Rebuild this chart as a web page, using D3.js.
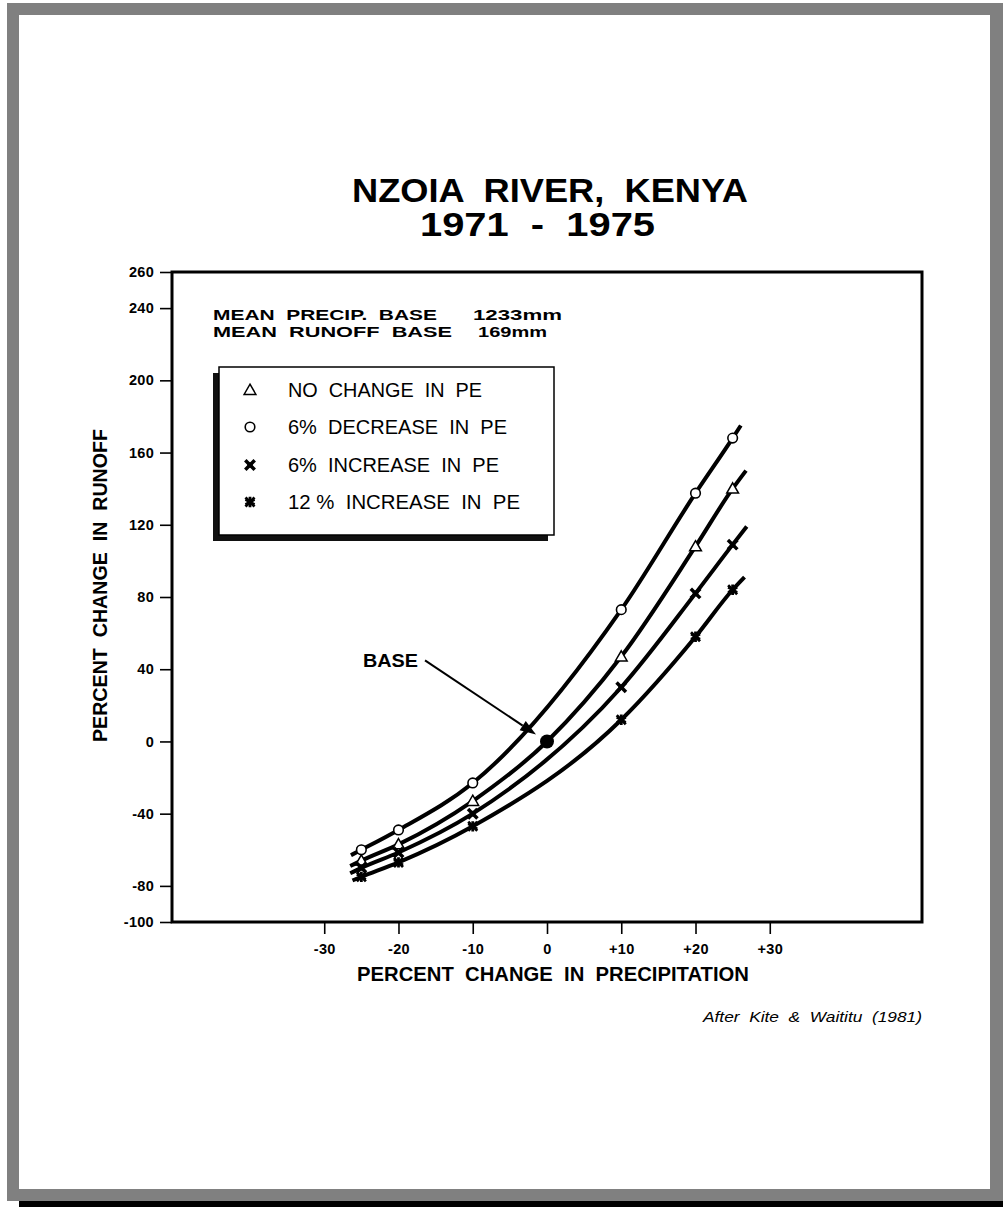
<!DOCTYPE html>
<html><head><meta charset="utf-8">
<script src="https://cdn.jsdelivr.net/npm/d3@7"></script>
<style>
body{margin:0;background:#fff}
svg{display:block}
text{font-family:"Liberation Sans",Arial,Helvetica,sans-serif;fill:#000;white-space:pre}
</style>
</head><body>
<svg id="c" width="1003" height="1207"></svg>
<script>
// ---- data ----
const markerX = [-25, -20, -10, 10, 20, 25];
const decrease6PE = [-60, -49, -23, 73, 137.5, 168];   // circles
const noChangePE = [-66, -57, -33, 47, 108, 140];     // triangles
const increase6PE = [-70, -61.5, -40, 30, 82, 109];   // x marks
const increase12PE = [-75, -67, -47, 12, 58, 84];     // asterisks
const curveStartX = [-26.4, -26.5, -26.5, -26.2];
const curveStartY = [-63, -69, -73, -77];
const curveEndX = [26.1, 26.8, 26.9, 26.6];
const curveEndY = [175, 150, 119, 91];
const basePoint = [0, 0];
const yTickValues = [260, 240, 200, 160, 120, 80, 40, 0, -40, -80, -100];
const xTickValues = [-30, -20, -10, 0, 10, 20, 30];
const xTickLabels = ["-30", "-20", "-10", "0", "+10", "+20", "+30"];
const legendLabels = ["NO  CHANGE  IN  PE", "6%  DECREASE  IN  PE", "6%  INCREASE  IN  PE", "12 %  INCREASE  IN  PE"];
const titleLines = ["NZOIA  RIVER,  KENYA", "1971  -  1975"];
const noteLines = [["MEAN  PRECIP.  BASE", "1233mm"], ["MEAN  RUNOFF  BASE", "169mm"]];

const svg = d3.select("#c");
const SG = "spacingAndGlyphs";

// page frame
svg.append("rect").attr("x", 7).attr("y", 3).attr("width", 996).attr("height", 1198).attr("fill", "#808080");
svg.append("rect").attr("x", 19).attr("y", 1201).attr("width", 984).attr("height", 6).attr("fill", "#000");
svg.append("rect").attr("x", 19).attr("y", 15).attr("width", 971).attr("height", 1174).attr("fill", "#fff");

// scales
const x = d3.scaleLinear().domain([-50.5, 50.5]).range([172, 922]);
const y = d3.scaleLinear().domain([-100, 260]).range([922, 272]);

// title
svg.append("text").attr("x", 352).attr("y", 202).attr("font-size", 33).attr("font-weight", "bold")
  .attr("textLength", 396).attr("lengthAdjust", SG).text(titleLines[0]);
svg.append("text").attr("x", 420).attr("y", 236).attr("font-size", 33).attr("font-weight", "bold")
  .attr("textLength", 235).attr("lengthAdjust", SG).text(titleLines[1]);

// axes
const yAxis = d3.axisLeft(y).tickValues(yTickValues).tickSize(12).tickPadding(6).tickFormat(d => String(d));
const gy = svg.append("g").attr("transform", `translate(${x.range()[0]},0)`).call(yAxis);
gy.select(".domain").remove();
gy.selectAll(".tick line").attr("stroke", "#000").attr("stroke-width", 1.6);
gy.selectAll(".tick text").attr("font-size", 14.5).attr("font-weight", "bold")
  .attr("letter-spacing", 0.3).attr("font-family", '"Liberation Sans",Arial,sans-serif');

const xAxis = d3.axisBottom(x).tickValues(xTickValues).tickSize(12).tickPadding(10)
  .tickFormat((d, i) => xTickLabels[i]);
const gx = svg.append("g").attr("transform", `translate(0,${y.range()[0]})`).call(xAxis);
gx.select(".domain").remove();
gx.selectAll(".tick line").attr("stroke", "#000").attr("stroke-width", 1.6);
gx.selectAll(".tick text").attr("font-size", 14.5).attr("font-weight", "bold")
  .attr("letter-spacing", 0.3).attr("font-family", '"Liberation Sans",Arial,sans-serif');

// plot frame
svg.append("rect").attr("x", x.range()[0]).attr("y", y.range()[1])
  .attr("width", x.range()[1] - x.range()[0]).attr("height", y.range()[0] - y.range()[1])
  .attr("fill", "none").attr("stroke", "#000").attr("stroke-width", 3);

// axis titles
svg.append("text").attr("x", 357).attr("y", 981).attr("font-size", 20).attr("font-weight", "bold")
  .attr("textLength", 392).attr("lengthAdjust", SG).text("PERCENT  CHANGE  IN  PRECIPITATION");
svg.append("text").attr("transform", "translate(107,742) rotate(-90)").attr("font-size", 20).attr("font-weight", "bold")
  .attr("textLength", 313).attr("lengthAdjust", SG).text("PERCENT  CHANGE  IN  RUNOFF");

// base info text
const noteBaselines = [319.5, 337];
const noteValX = [473, 478];
const noteLabelW = [224, 239];
const noteValW = [89, 69];
noteLines.forEach((l, i) => {
  svg.append("text").attr("x", 213).attr("y", noteBaselines[i]).attr("font-size", 15.5).attr("font-weight", "bold")
    .attr("textLength", noteLabelW[i]).attr("lengthAdjust", SG).text(l[0]);
  svg.append("text").attr("x", noteValX[i]).attr("y", noteBaselines[i]).attr("font-size", 15.5).attr("font-weight", "bold")
    .attr("textLength", noteValW[i]).attr("lengthAdjust", SG).text(l[1]);
});

// series
const series = [
  {vals: noChangePE, shape: "tri", idx: 1, withBase: true},
  {vals: decrease6PE, shape: "circle", idx: 0},
  {vals: increase6PE, shape: "times", idx: 2},
  {vals: increase12PE, shape: "star", idx: 3}
];

const line = d3.line().x(d => x(d[0])).y(d => y(d[1])).curve(d3.curveMonotoneX);
const gLines = svg.append("g");
series.forEach(s => {
  let pts = markerX.map((xx, i) => [xx, s.vals[i]]);
  if (s.withBase) { pts.push(basePoint); pts.sort((a, b) => a[0] - b[0]); }
  pts = [[curveStartX[s.idx], curveStartY[s.idx]], ...pts, [curveEndX[s.idx], curveEndY[s.idx]]];
  gLines.append("path").attr("d", line(pts)).attr("fill", "none").attr("stroke", "#000")
    .attr("stroke-width", 4).attr("stroke-linecap", "butt");
});

function drawMarker(g, shape, cx, cy) {
  if (shape === "tri") {
    g.append("path").attr("d", d3.symbol(d3.symbolTriangle, 60)()).attr("transform", `translate(${cx},${cy + 1})`)
      .attr("fill", "#fff").attr("stroke", "#000").attr("stroke-width", 1.5);
  } else if (shape === "circle") {
    g.append("circle").attr("cx", cx).attr("cy", cy).attr("r", 4.8)
      .attr("fill", "#fff").attr("stroke", "#000").attr("stroke-width", 1.6);
  } else if (shape === "times") {
    g.append("path").attr("d", d3.symbol(d3.symbolTimes, 60)()).attr("transform", `translate(${cx},${cy})`)
      .attr("fill", "none").attr("stroke", "#000").attr("stroke-width", 3.5);
    g.append("circle").attr("cx", cx).attr("cy", cy).attr("r", 2.8).attr("fill", "#000");
  } else {
    g.append("path").attr("d", d3.symbol(d3.symbolAsterisk, 75)()).attr("transform", `translate(${cx},${cy})`)
      .attr("fill", "none").attr("stroke", "#000").attr("stroke-width", 2.8);
    g.append("path").attr("d", d3.symbol(d3.symbolTimes, 55)()).attr("transform", `translate(${cx},${cy})`)
      .attr("fill", "none").attr("stroke", "#000").attr("stroke-width", 2.8);
  }
}

const gMarks = svg.append("g");
series.forEach(s => {
  markerX.forEach((xx, i) => drawMarker(gMarks, s.shape, x(xx), y(s.vals[i])));
});
// base point
svg.append("circle").attr("cx", x(basePoint[0])).attr("cy", y(basePoint[1])).attr("r", 7).attr("fill", "#000");

// BASE annotation with arrow
const bx = x(basePoint[0]), by = y(basePoint[1]);
svg.append("text").attr("x", bx - 184).attr("y", by - 74).attr("font-size", 18).attr("font-weight", "bold")
  .attr("textLength", 55).attr("lengthAdjust", SG).text("BASE");
const ax0 = bx - 122, ay0 = by - 81, ax1 = bx - 11, ay1 = by - 7;
const ang = Math.atan2(ay1 - ay0, ax1 - ax0);
const hl = 16, hw = 5.5;
const bxh = ax1 - hl * Math.cos(ang), byh = ay1 - hl * Math.sin(ang);
svg.append("line").attr("x1", ax0).attr("y1", ay0).attr("x2", bxh).attr("y2", byh)
  .attr("stroke", "#000").attr("stroke-width", 2);
svg.append("path").attr("d", `M${ax1},${ay1}L${bxh + hw * Math.sin(ang)},${byh - hw * Math.cos(ang)}L${bxh - hw * Math.sin(ang)},${byh + hw * Math.cos(ang)}Z`)
  .attr("fill", "#000");

// legend
const lg = svg.append("g");
const lx = 219, ly = 367, lw = 335, lh = 168;
lg.append("rect").attr("x", lx - 6).attr("y", ly + 6).attr("width", lw).attr("height", lh).attr("fill", "#111");
lg.append("rect").attr("x", lx).attr("y", ly).attr("width", lw).attr("height", lh)
  .attr("fill", "#fff").attr("stroke", "#000").attr("stroke-width", 1.5);
const legendShapes = ["tri", "circle", "times", "star"];
const legendY = [390, 427, 465, 502];
const legendW = [194, 219, 211, 232];
legendLabels.forEach((t, i) => {
  drawMarker(lg, legendShapes[i], 250, legendY[i]);
  lg.append("text").attr("x", 288).attr("y", legendY[i] + 7).attr("font-size", 20)
    .attr("textLength", legendW[i]).attr("lengthAdjust", SG).text(t);
});

// source note
svg.append("text").attr("x", 703).attr("y", 1022).attr("font-size", 14.5).attr("font-style", "italic")
  .attr("textLength", 219).attr("lengthAdjust", SG).text("After  Kite  &  Waititu  (1981)");
</script>
</body></html>
